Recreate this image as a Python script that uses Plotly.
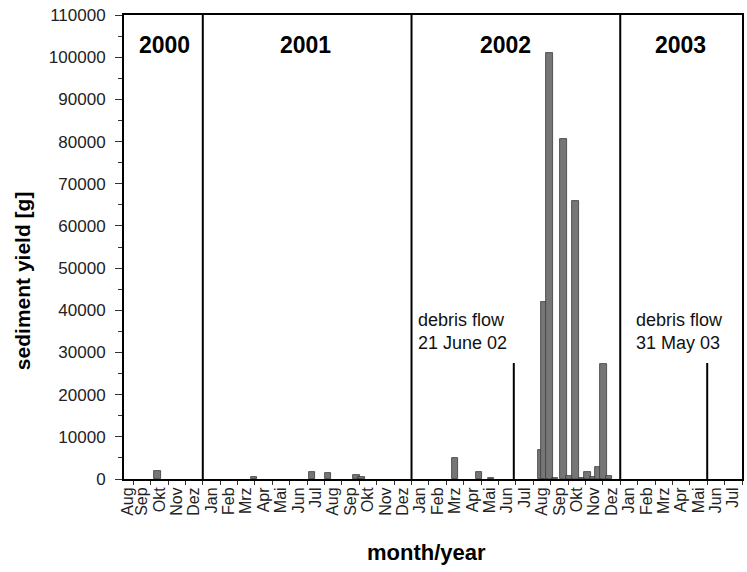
import plotly.graph_objects as go

# x coordinate: months since 1 Aug 2000 (0 = 1 Aug 2000)
month_labels = ["Aug", "Sep", "Okt", "Nov", "Dez",
                "Jan", "Feb", "Mrz", "Apr", "Mai", "Jun", "Jul", "Aug", "Sep", "Okt", "Nov", "Dez",
                "Jan", "Feb", "Mrz", "Apr", "Mai", "Jun", "Jul", "Aug", "Sep", "Okt", "Nov", "Dez",
                "Jan", "Feb", "Mrz", "Apr", "Mai", "Jun", "Jul"]
month_centers = [i + 0.5 for i in range(len(month_labels))]
month_centers[0] = 0.7  # axis starts mid-August 2000

bar_x = [2.39,
         7.96, 11.29, 12.20, 13.83, 14.13,
         19.51, 20.87, 21.58,
         24.44, 24.65, 24.94, 25.25, 25.74, 26.04, 26.42, 26.79,
         27.12, 27.45, 27.74, 28.04, 28.34]
bar_values = [1900,
              470, 1650, 1420, 1020, 470,
              5000, 1560, 250,
              6800, 42000, 101000, 300, 80500, 800, 66000, 200,
              1560, 470, 2750, 27300, 600]

year_starts = [5, 17, 29]
year_labels = ["2000", "2001", "2002", "2003"]
year_label_x = [2.82, 10.92, 22.4, 32.45]

debris_x = [22.88, 34.0]
debris_height = [27500, 27500]
debris_text = ["debris flow<br>21 June 02", "debris flow<br>31 May 03"]
debris_text_x = [17.26, 29.81]

FONT = "Liberation Sans, Arial, Helvetica, sans-serif"

fig = go.Figure()

fig.add_trace(go.Bar(
    x=bar_x, y=bar_values, width=0.36,
    marker=dict(color="#767676", line=dict(color="#3a3a3a", width=0.8)),
    showlegend=False,
))

dx, dy = [], []
for xv, h in zip(debris_x, debris_height):
    dx += [xv, xv, None]
    dy += [0, h, None]
fig.add_trace(go.Scatter(x=dx, y=dy, mode="lines",
                         line=dict(color="black", width=2), showlegend=False))

for ys in year_starts:
    fig.add_shape(type="line", xref="x", yref="y", x0=ys, x1=ys, y0=0, y1=110000,
                  line=dict(color="black", width=2))

for lab, xv in zip(year_labels, year_label_x):
    fig.add_annotation(x=xv, y=103000, text="<b>" + lab + "</b>", showarrow=False,
                       xanchor="center", yanchor="middle",
                       font=dict(family=FONT, size=23, color="black"))

for txt, xv in zip(debris_text, debris_text_x):
    fig.add_annotation(x=xv, y=35000, text=txt, showarrow=False,
                       xanchor="left", yanchor="middle", align="left",
                       font=dict(family=FONT, size=18, color="#111"))

# axis titles
fig.add_annotation(xref="paper", yref="paper", x=-0.163, y=0.427,
                   text="<b>sediment yield [g]</b>", textangle=-90, showarrow=False,
                   xanchor="center", yanchor="middle",
                   font=dict(family=FONT, size=21, color="black"))
fig.add_annotation(xref="paper", yref="paper", x=0.49, y=-0.159,
                   text="<b>month/year</b>", showarrow=False,
                   xanchor="center", yanchor="middle",
                   font=dict(family=FONT, size=22, color="black"))

fig.update_layout(
    width=747, height=572,
    margin=dict(l=124, r=3, t=15, b=93),
    paper_bgcolor="white", plot_bgcolor="white",
    font=dict(family=FONT, color="#222"),
    bargap=0,
    xaxis=dict(
        range=[0.47, 36.0],
        tickmode="array", tickvals=month_centers, ticktext=month_labels,
        tickangle=-90, ticks="", showgrid=False, zeroline=False,
        tickfont=dict(family=FONT, size=16, color="#222"),
        showline=True, linecolor="black", linewidth=2, mirror=True,
        minor=dict(tickmode="linear", tick0=0, dtick=1, ticks="outside",
                   ticklen=4, tickcolor="#333", tickwidth=1),
    ),
    yaxis=dict(
        range=[0, 110000], tickmode="linear", tick0=0, dtick=10000,
        tickformat="d", ticks="outside", ticklen=7, tickcolor="#333",
        showgrid=False, zeroline=False,
        tickfont=dict(family=FONT, size=17, color="#222"),
        showline=True, linecolor="black", linewidth=2, mirror=True,
        minor=dict(tickmode="linear", tick0=0, dtick=5000, ticks="outside",
                   ticklen=4, tickcolor="#333"),
        ticklabelstandoff=6,
    ),
)

fig.write_html("out.html")
